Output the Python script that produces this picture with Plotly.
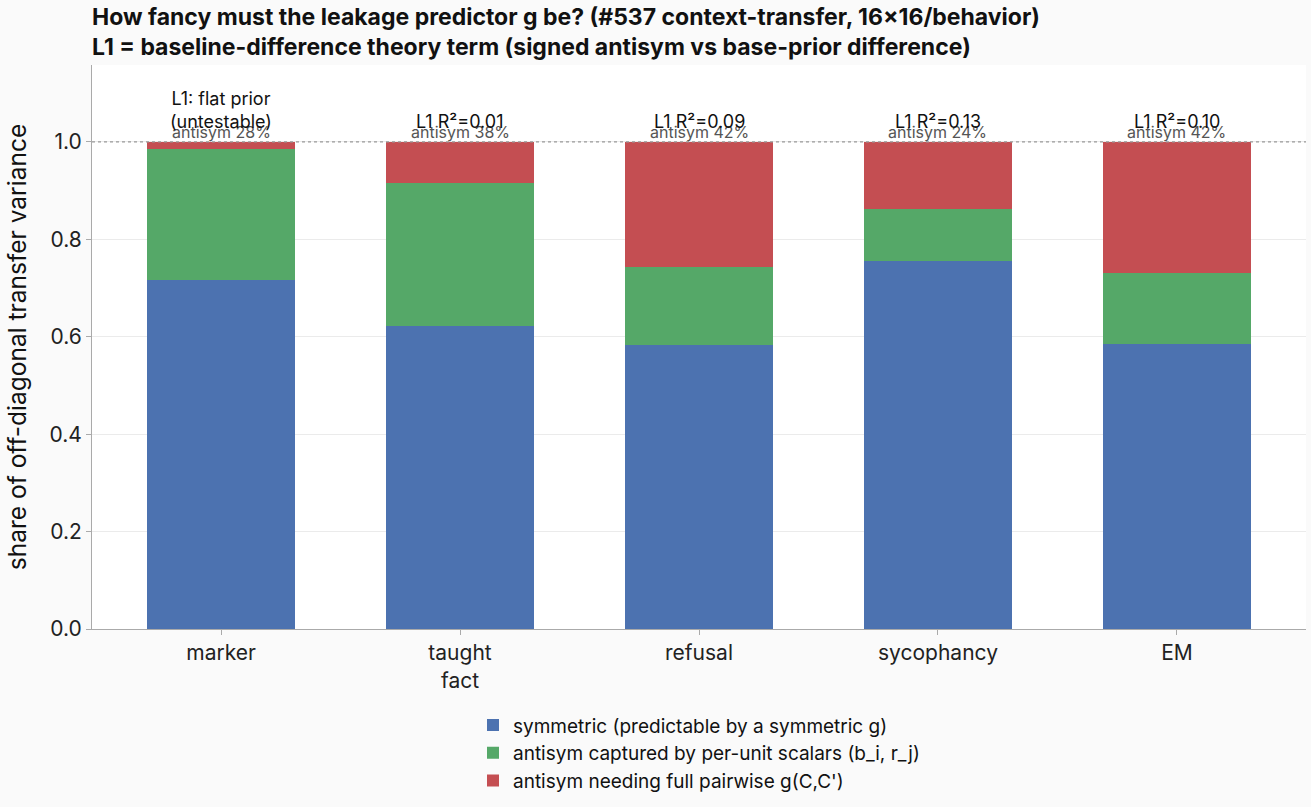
import plotly.graph_objects as go

categories = ["marker", "taught<br>fact", "refusal", "sycophancy", "EM"]
symmetric = [0.717, 0.622, 0.583, 0.756, 0.585]
antisym_scalar = [0.269, 0.294, 0.160, 0.106, 0.146]
antisym_pairwise = [0.014, 0.084, 0.257, 0.138, 0.269]
antisym_pct = ["antisym 28%", "antisym 38%", "antisym 42%", "antisym 24%", "antisym 42%"]
l1_labels = ["L1: flat prior<br>(untestable)", "L1 R²=0.01", "L1 R²=0.09", "L1 R²=0.13", "L1 R²=0.10"]

names = ["symmetric (predictable by a symmetric g)",
         "antisym captured by per-unit scalars (b_i, r_j)",
         "antisym needing full pairwise g(C,C')"]
colors = ["#4c72b0", "#55a868", "#c44e52"]

fig = go.Figure()
for vals, nm, c in zip([symmetric, antisym_scalar, antisym_pairwise], names, colors):
    fig.add_trace(go.Bar(x=categories, y=vals, name=nm, marker_color=c,
                         marker_line_width=0, width=0.62))

fig.add_hline(y=1.0, line_dash="dot", line_color="#999999", line_width=1.2)

for cat, pct, l1 in zip(categories, antisym_pct, l1_labels):
    fig.add_annotation(x=cat, y=1.0, text=pct, showarrow=False, yanchor="bottom",
                       yshift=-2, font=dict(size=16, color="#555555"))
    fig.add_annotation(x=cat, y=1.0, text=l1, showarrow=False, yanchor="bottom",
                       yshift=8, font=dict(size=18, color="#111111"))

fig.update_layout(
    width=1311, height=807,
    barmode="stack",
    paper_bgcolor="#fafafa", plot_bgcolor="#ffffff",
    font=dict(family="Inter, DejaVu Sans, sans-serif", color="#222222"),
    title=dict(text="<b>How fancy must the leakage predictor g be? (#537 context-transfer, 16×16/behavior)<br>L1 = baseline-difference theory term (signed antisym vs base-prior difference)</b>",
               x=92/1311, xanchor="left", xref="container", y=1 - 25/807, yanchor="bottom", yref="container",
               font=dict(size=23, color="#111111")),
    margin=dict(l=92, r=5, t=65, b=178, autoexpand=False),
    xaxis=dict(range=[-0.54, 4.54], showline=True, linecolor="#aaaaaa", ticks="outside",
               ticklen=5, tickcolor="#aaaaaa", tickfont=dict(size=21, color="#222222")),
    yaxis=dict(range=[0, 1.158], dtick=0.2, tickformat=".1f", showline=True, linecolor="#aaaaaa",
               ticks="outside", ticklen=5, tickcolor="#aaaaaa", gridcolor="#ebebeb",
               zeroline=False, tickfont=dict(size=21, color="#222222"),
               title=dict(text="share of off-diagonal transfer variance", font=dict(size=24.5, color="#111111"))),
    legend=dict(orientation="v", x=0.5, xanchor="center", y=-0.137, yanchor="top",
                font=dict(size=19, color="#111111"), traceorder="normal", bgcolor="rgba(0,0,0,0)"),
    bargap=0.38,
)

fig.write_html("out.html")
